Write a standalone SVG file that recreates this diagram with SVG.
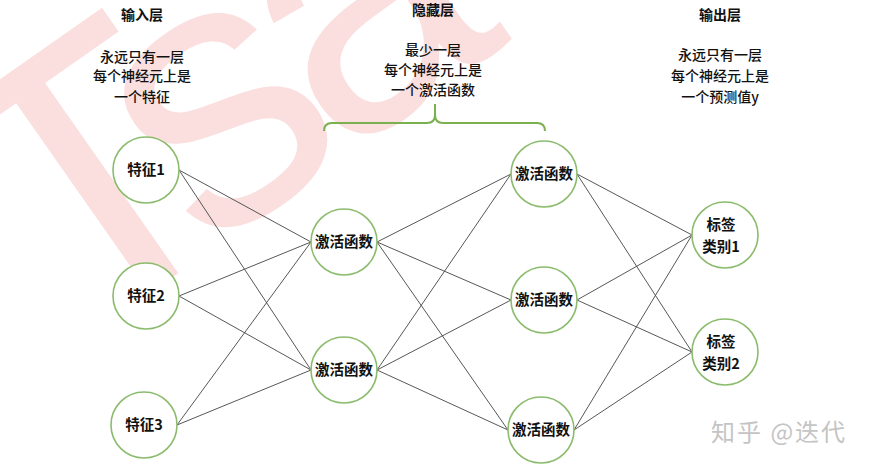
<svg xmlns="http://www.w3.org/2000/svg" width="870" height="466" viewBox="0 0 870 466">
<style>
.bg{fill:#ffffff}
.wm{font-family:"Liberation Sans",sans-serif;font-size:380px;letter-spacing:-25px;fill:#f7b9b9;opacity:0.45}
.wm2{font-family:"Noto Sans CJK SC",sans-serif;font-size:24px;letter-spacing:2px;fill:#c4c4c4}
.ttl{font-family:"Noto Sans CJK SC",sans-serif;font-size:14px;font-weight:700;fill:#111;text-anchor:middle}
.desc{font-family:"Noto Sans CJK SC",sans-serif;font-size:14px;font-weight:500;fill:#111;text-anchor:middle}
.lbl{font-family:"Noto Sans CJK SC",sans-serif;font-size:14.5px;font-weight:700;fill:#111;text-anchor:middle}
.node circle{fill:#ffffff;stroke:#8bbb6c;stroke-width:1.6}
#connectors line{stroke:#444;stroke-width:0.9}
.brace{fill:none;stroke:#7ab04e;stroke-width:2}
</style>
<rect class="bg" x="0" y="0" width="870" height="466"/>
<text class="wm" transform="translate(69,350) rotate(-35)">Tsa</text>
<text class="wm2" x="711" y="441">知乎 @迭代</text>

<g id="titles">
<text class="ttl" x="142" y="20">输入层</text>
<text class="desc" x="142" y="62">永远只有一层</text>
<text class="desc" x="142" y="81">每个神经元上是</text>
<text class="desc" x="142" y="102">一个特征</text>
<text class="ttl" x="433" y="15">隐藏层</text>
<text class="desc" x="433" y="55">最少一层</text>
<text class="desc" x="433" y="75">每个神经元上是</text>
<text class="desc" x="433" y="95">一个激活函数</text>
<text class="ttl" x="720" y="20">输出层</text>
<text class="desc" x="720" y="60">永远只有一层</text>
<text class="desc" x="720" y="81">每个神经元上是</text>
<text class="desc" x="720" y="102">一个预测值y</text>
</g>
<g id="brace">
<path class="brace" d="M324,131 Q324,123 332,123 L427,123 Q435,123 435,115 L435,104 M435,115 Q435,123 443,123 L537,123 Q545,123 545,131"/>
</g>

<g id="connectors">
<line x1="179" y1="170" x2="311" y2="242"/>
<line x1="179" y1="170" x2="311" y2="370"/>
<line x1="179" y1="296" x2="311" y2="242"/>
<line x1="179" y1="296" x2="311" y2="370"/>
<line x1="177" y1="425" x2="311" y2="242"/>
<line x1="177" y1="425" x2="311" y2="370"/>
<line x1="377" y1="242" x2="511" y2="174"/>
<line x1="377" y1="242" x2="511" y2="300"/>
<line x1="377" y1="242" x2="508" y2="430"/>
<line x1="377" y1="370" x2="511" y2="174"/>
<line x1="377" y1="370" x2="511" y2="300"/>
<line x1="377" y1="370" x2="508" y2="430"/>
<line x1="577" y1="174" x2="692" y2="235"/>
<line x1="577" y1="174" x2="692" y2="352"/>
<line x1="577" y1="300" x2="692" y2="235"/>
<line x1="577" y1="300" x2="692" y2="352"/>
<line x1="574" y1="430" x2="692" y2="235"/>
<line x1="574" y1="430" x2="692" y2="352"/>
</g>

<g id="in1" class="node"><circle cx="146" cy="170" r="33"/><text class="lbl" x="146" y="175">特征1</text></g>
<g id="in2" class="node"><circle cx="146" cy="296" r="33"/><text class="lbl" x="146" y="301">特征2</text></g>
<g id="in3" class="node"><circle cx="144" cy="425" r="33"/><text class="lbl" x="144" y="430">特征3</text></g>
<g id="h1a" class="node"><circle cx="344" cy="242" r="33"/><text class="lbl" x="344" y="247">激活函数</text></g>
<g id="h1b" class="node"><circle cx="344" cy="370" r="33"/><text class="lbl" x="344" y="375">激活函数</text></g>
<g id="h2a" class="node"><circle cx="544" cy="174" r="33"/><text class="lbl" x="544" y="179">激活函数</text></g>
<g id="h2b" class="node"><circle cx="544" cy="300" r="33"/><text class="lbl" x="544" y="305">激活函数</text></g>
<g id="h2c" class="node"><circle cx="541" cy="430" r="33"/><text class="lbl" x="541" y="435">激活函数</text></g>
<g id="o1" class="node"><circle cx="725" cy="235" r="33"/><text class="lbl" x="721" y="230">标签</text><text class="lbl" x="721" y="252">类别1</text></g>
<g id="o2" class="node"><circle cx="725" cy="352" r="33"/><text class="lbl" x="721" y="347">标签</text><text class="lbl" x="721" y="369">类别2</text></g>
</svg>
